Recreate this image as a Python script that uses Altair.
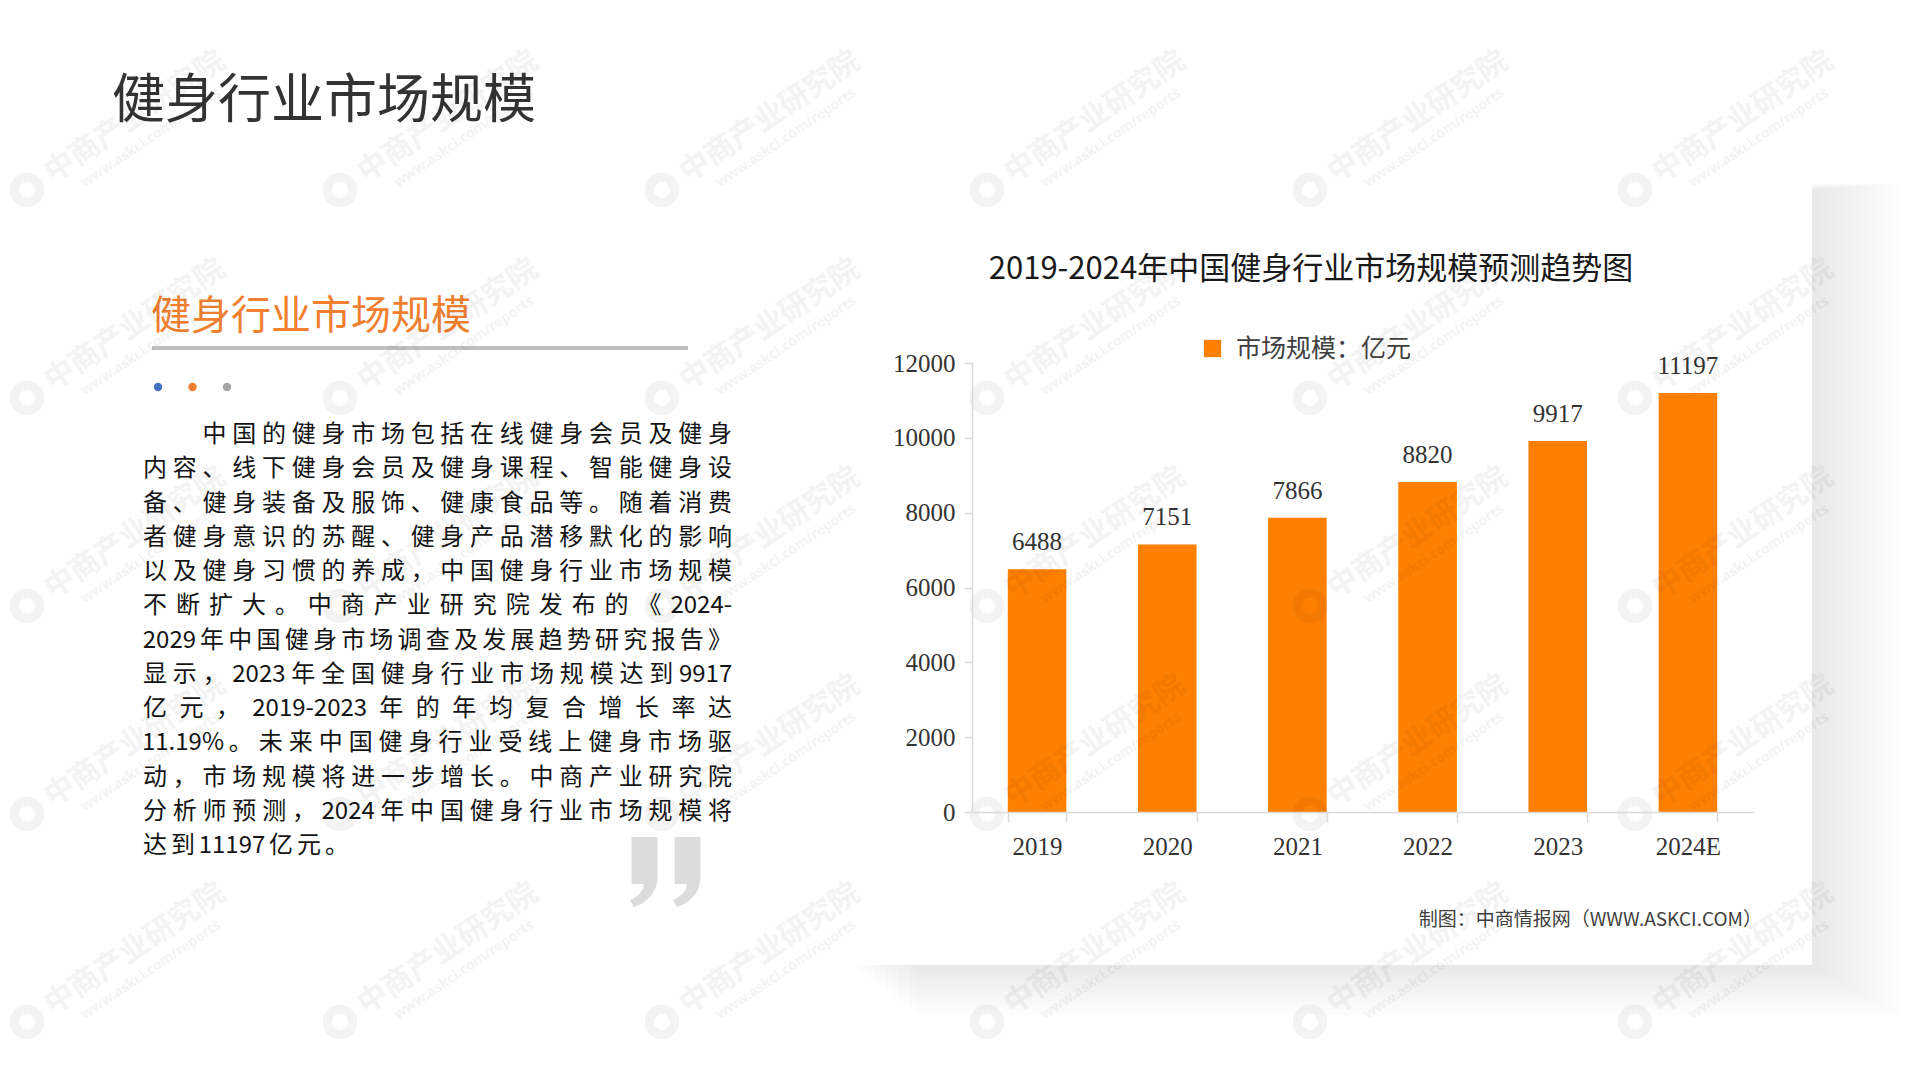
import altair as alt
import pandas as pd

# ---------------- data ----------------
years = ["2019", "2020", "2021", "2022", "2023", "2024E"]
market_size = [6488, 7151, 7866, 8820, 9917, 11197]
series_name = "市场规模：亿元"
y_ticks = [0, 2000, 4000, 6000, 8000, 10000, 12000]

page_title = "健身行业市场规模"
section_title = "健身行业市场规模"
chart_title = "2019-2024年中国健身行业市场规模预测趋势图"
source_note = "制图：中商情报网（WWW.ASKCI.COM）"
paragraph_lines = [
    "　　中国的健身市场包括在线健身会员及健身",
    "内容、线下健身会员及健身课程、智能健身设",
    "备、健身装备及服饰、健康食品等。随着消费",
    "者健身意识的苏醒、健身产品潜移默化的影响",
    "以及健身习惯的养成，中国健身行业市场规模",
    "不断扩大。中商产业研究院发布的《2024-",
    "2029年中国健身市场调查及发展趋势研究报告》",
    "显示，2023年全国健身行业市场规模达到9917",
    "亿元，2019-2023年的年均复合增长率达",
    "11.19%。未来中国健身行业受线上健身市场驱",
    "动，市场规模将进一步增长。中商产业研究院",
    "分析师预测，2024年中国健身行业市场规模将",
    "达到11197亿元。",
]
watermark_main = "中商产业研究院"
watermark_sub = "www.askci.com/reports"
dot_colors = ["#4472C4", "#ED7D31", "#A5A5A5"]

# ---------------- layout (page pixels) ----------------
W, H = 1920, 1080
PAD_L, PAD_T = 972, 363
PLOT_W, PLOT_H = 781, 449
PAD_R = W - PAD_L - PLOT_W
PAD_B = H - PAD_T - PLOT_H


def rx(X):
    return X - PAD_L


def ry(Y):
    return Y - PAD_T


CJK = "Noto Sans CJK SC"
SERIF = "Liberation Serif"
ORANGE = "#FF7F00"

# ---------------- card + shadow ----------------
CARD = (820, 180, 1812, 965)
shadow_rows = []
for k in range(1, 12):
    shadow_rows.append({
        "x": rx(CARD[0] + 30 + 6 * k), "x2": rx(CARD[2] + 8 * k),
        "y": ry(CARD[1] + 10 - 0.6 * k), "y2": ry(CARD[3] + 4.5 * k),
    })
shadow_df = pd.DataFrame(shadow_rows)
shadow = alt.Chart(shadow_df).mark_rect(color="#000000", opacity=0.008).encode(
    x=alt.X("x:Q", scale=None), x2="x2:Q",
    y=alt.Y("y:Q", scale=None), y2="y2:Q",
)
card = alt.Chart(pd.DataFrame({"x": [rx(CARD[0])], "x2": [rx(CARD[2])],
                               "y": [ry(CARD[1])], "y2": [ry(CARD[3])]})).mark_rect(
    color="#FFFFFF").encode(
    x=alt.X("x:Q", scale=None), x2="x2:Q", y=alt.Y("y:Q", scale=None), y2="y2:Q")

# ---------------- left side text ----------------
one = pd.DataFrame({"a": [0]})


def text_layer(txt, X, Y, size, color, font=CJK, align="left", weight="normal", baseline="middle"):
    return alt.Chart(one).mark_text(
        text=txt, font=font, fontSize=size, color=color, align=align,
        baseline=baseline, fontWeight=weight,
    ).encode(x=alt.value(rx(X)), y=alt.value(ry(Y)))


big_title = text_layer(page_title, 112, 102, 53, "#333333")
sub_title = text_layer(section_title, 151, 317, 40, "#F0802F")
sub_rule = alt.Chart(one).mark_rule(color="#BFBFBF", strokeWidth=4).encode(
    x=alt.value(rx(152)), x2=alt.value(rx(688)), y=alt.value(ry(348)))

dots_df = pd.DataFrame({"x": [rx(158 + 34.5 * i) for i in range(3)],
                        "y": [ry(387)] * 3, "c": dot_colors})
dots = alt.Chart(dots_df).mark_circle(size=70, opacity=1).encode(
    x=alt.X("x:Q", scale=None), y=alt.Y("y:Q", scale=None), color=alt.Color("c:N", scale=None))

# paragraph, justified token by token (ASCII runs kept together)
FS_P = 24
PARA_X, PARA_W, PARA_Y0, PARA_DY = 143, 589, 435, 34.25


def char_w(ch):
    if ch.isdigit():
        return 0.55
    if ch == "-":
        return 0.36
    if ch == ".":
        return 0.27
    if ch == "%":
        return 0.86
    return 1.0


def tokens(line):
    out, buf = [], ""
    for c in line:
        if ord(c) < 128:
            buf += c
        else:
            if buf:
                out.append(buf)
                buf = ""
            out.append(c)
    if buf:
        out.append(buf)
    return out


prow = []
for i, line in enumerate(paragraph_lines):
    toks = tokens(line)
    widths = [sum(char_w(c) for c in t) * FS_P for t in toks]
    natural = sum(widths)
    last = i == len(paragraph_lines) - 1
    gap = 4.0 if last else (PARA_W - natural) / (len(toks) - 1)
    xpos = PARA_X
    for t, w in zip(toks, widths):
        if t.strip("　"):
            prow.append({"tok": t, "x": rx(xpos + w / 2), "y": ry(PARA_Y0 + i * PARA_DY)})
        xpos += w + gap
para_df = pd.DataFrame(prow)
paragraph = alt.Chart(para_df).mark_text(
    font=CJK, fontSize=FS_P, color="#141414", align="center", baseline="middle").encode(
    x=alt.X("x:Q", scale=None), y=alt.Y("y:Q", scale=None), text="tok:N")

# big closing quotation mark drawn as two comma-shaped symbols
COMMA_PATH = ("M -0.37 -1 L 0.37 -1 L 0.37 0.15 C 0.37 0.55 0.12 0.86 -0.3 1 "
              "L -0.42 0.8 C -0.14 0.68 -0.02 0.5 -0.02 0.34 L -0.37 0.34 Z")
QUOTE_CX, QUOTE_CY, QUOTE_SEP = 666, 872, 43
quote_df = pd.DataFrame({"x": [rx(QUOTE_CX - QUOTE_SEP / 2), rx(QUOTE_CX + QUOTE_SEP / 2)],
                         "y": [ry(QUOTE_CY)] * 2})
quote = alt.Chart(quote_df).mark_point(shape=COMMA_PATH, filled=True, size=4900,
                                       color="#DCDCDC", opacity=1, strokeWidth=0).encode(
    x=alt.X("x:Q", scale=None), y=alt.Y("y:Q", scale=None))

title_txt = text_layer(chart_title, 1311, 270, 31, "#1A1A1A", align="center")
note_txt = text_layer(source_note, 1762, 920, 19, "#404040", align="right")

# ---------------- watermark ----------------
wm_cols = [27, 340, 662, 987, 1310, 1635]
wm_rows = [190, 398, 606, 814, 1022]
wm = []
for cy in wm_rows:
    for cx in wm_cols:
        wm.append({"lx": rx(cx), "ly": ry(cy),
                   "tx": rx(cx + 108), "ty": ry(cy - 73),
                   "sx": rx(cx + 124), "sy": ry(cy - 52)})
wm_df = pd.DataFrame(wm)
WM_OP = 0.045
wm_logo = alt.Chart(wm_df).mark_point(shape="circle", filled=False, size=650, strokeWidth=9,
                                      color="#000000", opacity=WM_OP).encode(
    x=alt.X("lx:Q", scale=None), y=alt.Y("ly:Q", scale=None))
wm_text = alt.Chart(wm_df).mark_text(text=watermark_main, font=CJK, fontSize=30, angle=326,
                                     color="#000000", opacity=WM_OP, fontWeight="bold").encode(
    x=alt.X("tx:Q", scale=None), y=alt.Y("ty:Q", scale=None))
wm_sub = alt.Chart(wm_df).mark_text(text=watermark_sub, font="Noto Sans", fontSize=14, angle=326,
                                    color="#000000", opacity=WM_OP, fontWeight="bold").encode(
    x=alt.X("sx:Q", scale=None), y=alt.Y("sy:Q", scale=None))

# ---------------- chart ----------------
df = pd.DataFrame({"year": years, "value": market_size, "series": [series_name] * len(years)})
base = alt.Chart(df)
x_enc = alt.X("year:N", sort=years, title=None,
              scale=alt.Scale(paddingInner=0.55, paddingOuter=0.275),
              axis=alt.Axis(labelAngle=0, labelFont=SERIF, labelFontSize=25, labelColor="#333333",
                            domainColor="#D9D9D9", domainWidth=1.5, tickColor="#D9D9D9",
                            tickWidth=1.5, tickSize=10, tickBand="extent", labelPadding=12,
                            zindex=1))
y_enc = alt.Y("value:Q", title=None, scale=alt.Scale(domain=[0, 12000], nice=False),
              axis=alt.Axis(values=y_ticks, format="d", grid=False, labelFont=SERIF,
                            labelFontSize=25, labelColor="#333333", domainColor="#D9D9D9",
                            domainWidth=1.5, tickColor="#D9D9D9", tickWidth=1.5, tickSize=8,
                            labelPadding=9, zindex=1))
bars = base.mark_bar().encode(
    x=x_enc, y=y_enc,
    color=alt.Color("series:N", scale=alt.Scale(range=[ORANGE]),
                    legend=alt.Legend(orient="none", legendX=rx(1200), legendY=ry(336),
                                      title=None, symbolType="square", symbolSize=300,
                                      symbolStrokeWidth=0, labelFont=CJK, labelFontSize=25,
                                      labelColor="#404040", labelOffset=11, padding=0,
                                      labelLimit=0, direction="horizontal")),
)
values = base.mark_text(font=SERIF, fontSize=25, color="#333333", baseline="middle", dy=-27).encode(
    x=alt.X("year:N", sort=years), y="value:Q", text="value:Q")
core = alt.layer(bars, values)

back = alt.layer(shadow, card, big_title, sub_title, sub_rule, dots, paragraph, quote,
                 title_txt, note_txt)
front = alt.layer(wm_logo, wm_text, wm_sub)

chart = alt.layer(back, core, front).resolve_scale(
    x="independent", y="independent"
).resolve_axis(x="independent", y="independent").properties(
    width=PLOT_W, height=PLOT_H,
    autosize=alt.AutoSizeParams(type="none"),
    padding={"left": PAD_L, "top": PAD_T, "right": PAD_R, "bottom": PAD_B},
    background="#FFFFFF",
).configure_view(stroke=None)

chart.save("out.html", embed_options={"renderer": "svg", "actions": False})
